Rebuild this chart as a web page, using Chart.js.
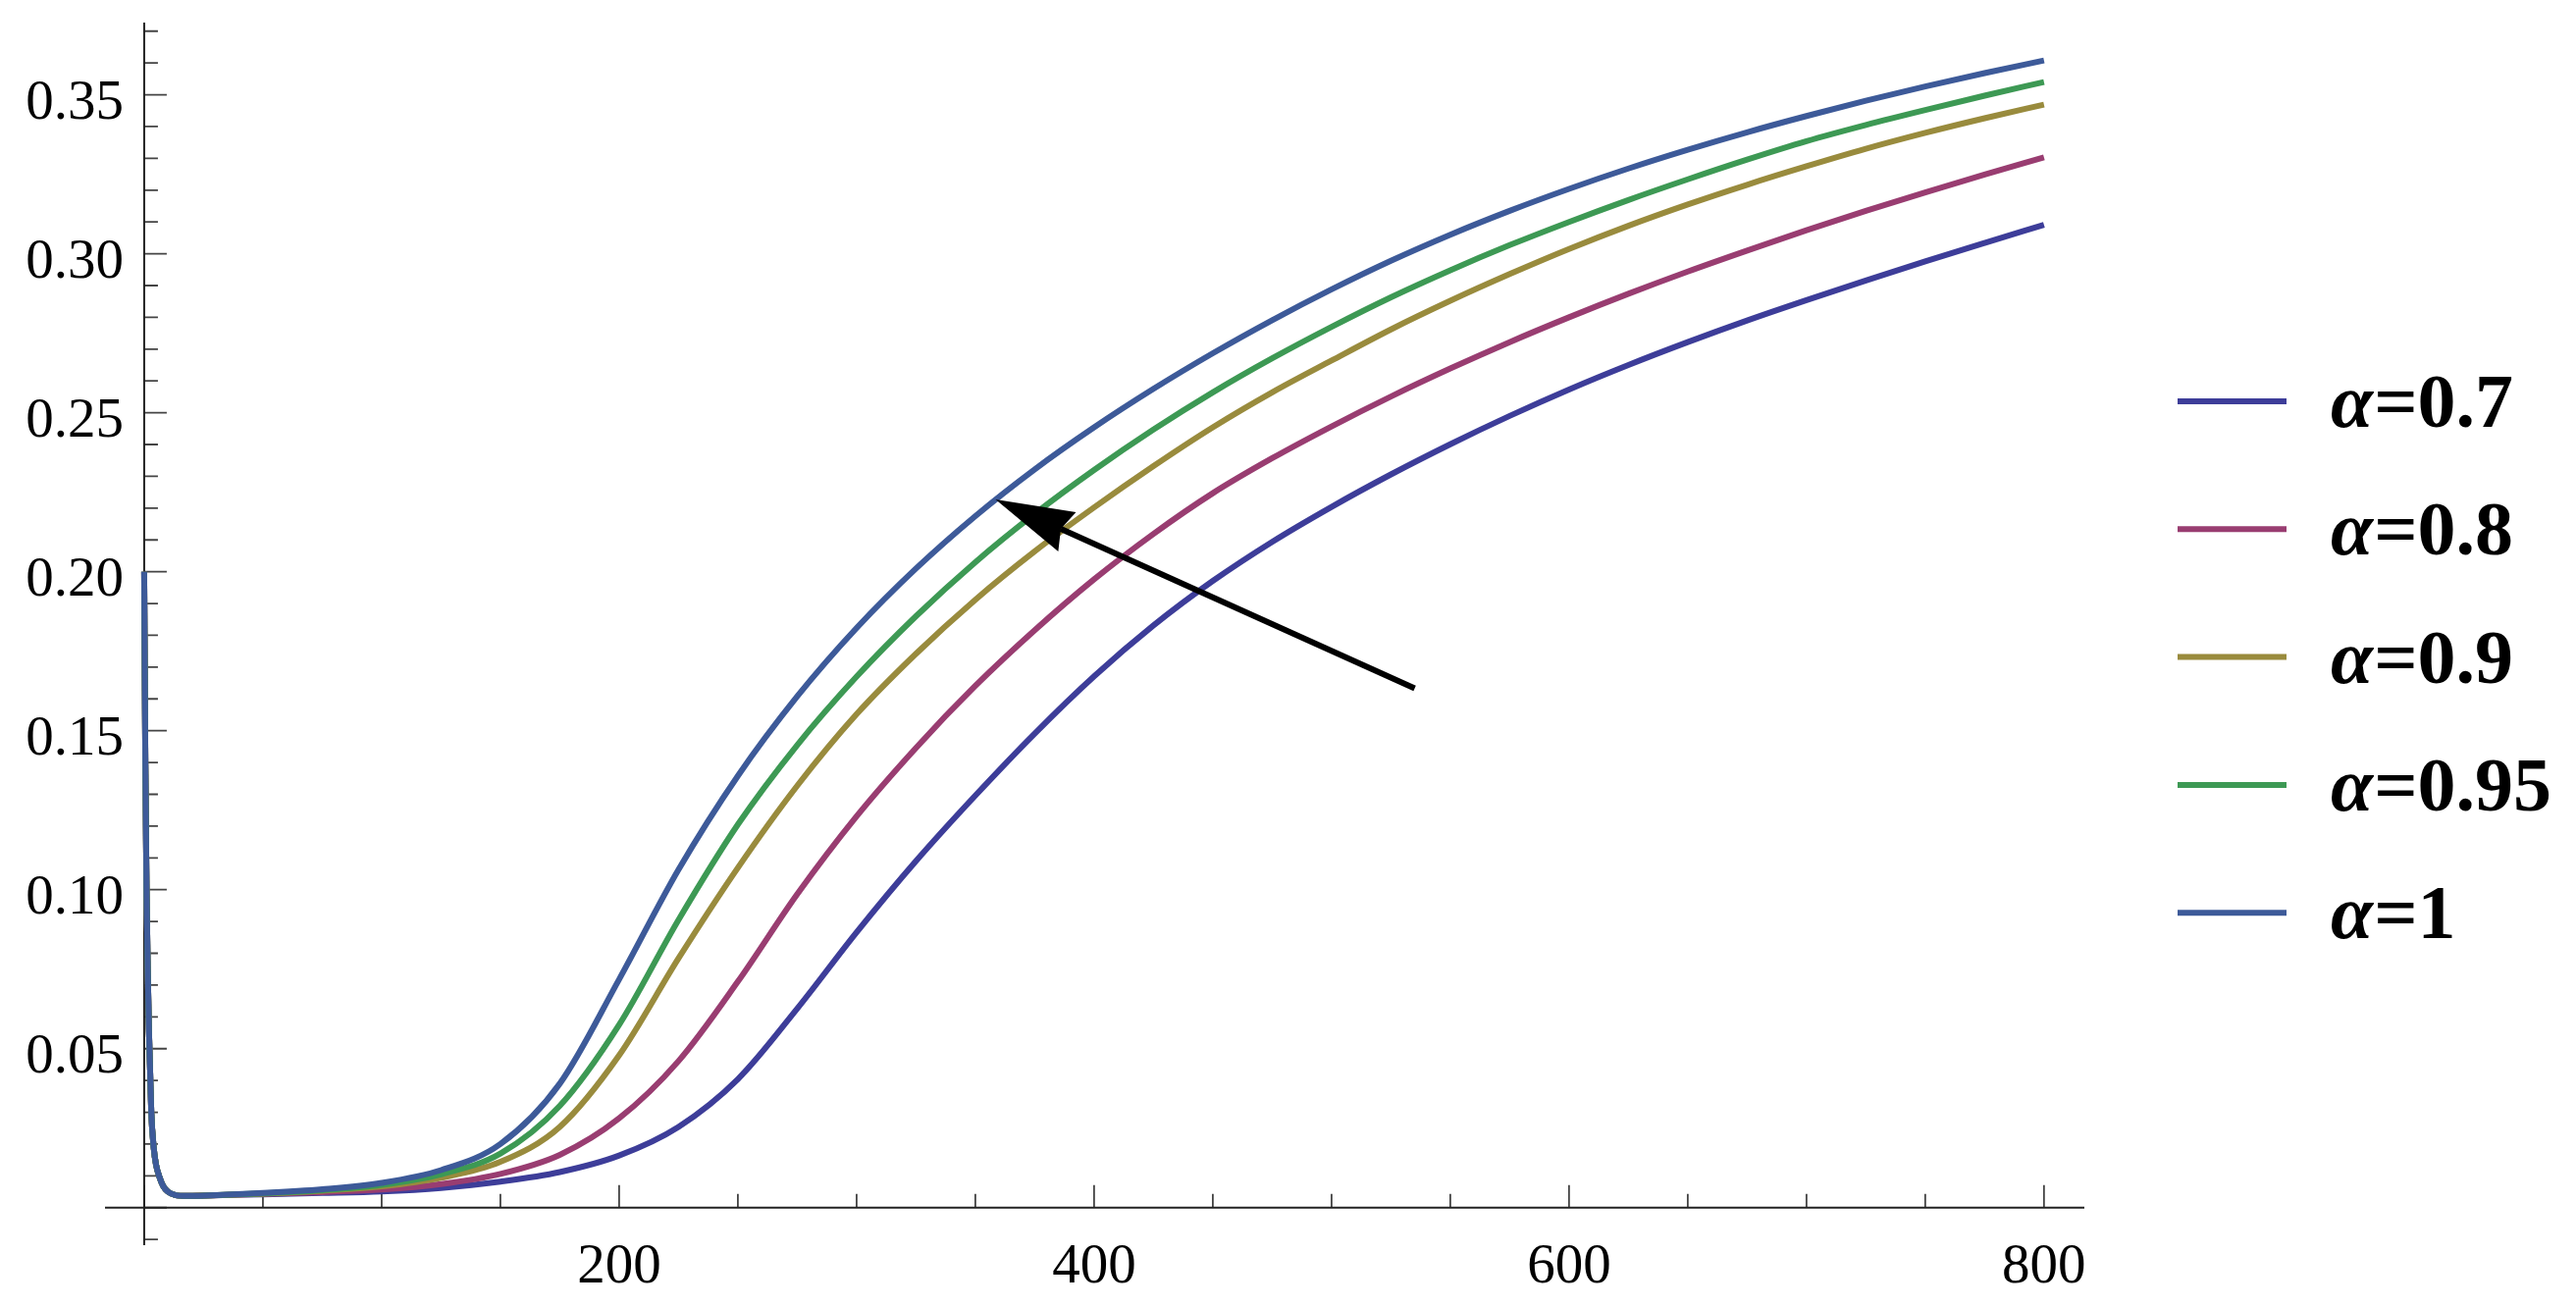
<!DOCTYPE html>
<html>
<head>
<meta charset="utf-8">
<script src="https://cdn.jsdelivr.net/npm/chart.js@4.4.1/dist/chart.umd.min.js"></script>
<style>
  html, body { margin: 0; padding: 0; background: #fff; }
  #wrap { width: 2625px; height: 1332px; position: relative; }
</style>
</head>
<body>
<div id="wrap"><canvas id="chart"></canvas></div>
<script>
// Sample positions along the horizontal axis (denser near the spike at 0)
const xValues = [0, 0.5, 1, 1.5, 2, 2.5, 3, 4, 5, 6.5, 8, 10, 13, 18,
    25, 50, 75, 100, 125, 150, 175, 200, 225, 250, 275, 300, 325, 350, 375, 400,
    425, 450, 475, 500, 525, 550, 575, 600, 625, 650, 675, 700, 725, 750, 775, 800];

// The initial drop is the same for every curve
const spike = [0.200, 0.140, 0.100, 0.075, 0.056, 0.043, 0.030, 0.019, 0.0135, 0.0095, 0.0068, 0.0050, 0.0040, 0.0037];

// Values, from x = 25 onwards, one list per curve
const alpha07 = [0.0038, 0.0042, 0.0046, 0.0051, 0.0062, 0.0082, 0.0112, 0.0164, 0.0254, 0.0404, 0.0626, 0.0866,
    0.1090, 0.1296, 0.1491, 0.1671, 0.1831, 0.1971, 0.2094, 0.2204, 0.2306, 0.2401, 0.2490, 0.2573,
    0.2650, 0.2722, 0.2790, 0.2854, 0.2916, 0.2976, 0.3034, 0.3091];
const alpha08 = [0.0038, 0.0043, 0.0049, 0.0057, 0.0074, 0.0106, 0.0166, 0.0281, 0.0461, 0.0711, 0.0986, 0.1231,
    0.1446, 0.1641, 0.1816, 0.1976, 0.2119, 0.2247, 0.2357, 0.2457, 0.2551, 0.2639, 0.2722, 0.2800,
    0.2874, 0.2944, 0.3010, 0.3074, 0.3135, 0.3193, 0.3249, 0.3303];
const alpha09 = [0.0038, 0.0044, 0.0053, 0.0067, 0.0094, 0.0144, 0.0254, 0.0479, 0.0784, 0.1069, 0.1327, 0.1552,
    0.1742, 0.1912, 0.2064, 0.2202, 0.2332, 0.2454, 0.2564, 0.2664, 0.2762, 0.2852, 0.2936, 0.3015,
    0.3088, 0.3155, 0.3217, 0.3275, 0.3330, 0.3380, 0.3426, 0.3469];
const alpha095 = [0.0038, 0.0045, 0.0055, 0.0072, 0.0105, 0.0170, 0.0320, 0.0575, 0.0905, 0.1205, 0.1455, 0.1670,
    0.1860, 0.2030, 0.2182, 0.2320, 0.2447, 0.2564, 0.2671, 0.2770, 0.2863, 0.2948, 0.3027, 0.3100,
    0.3169, 0.3234, 0.3296, 0.3354, 0.3405, 0.3452, 0.3497, 0.3540];
const alpha1 = [0.0038, 0.0046, 0.0058, 0.0078, 0.0118, 0.0200, 0.0390, 0.0718, 0.1063, 0.1358, 0.1608, 0.1823,
    0.2010, 0.2175, 0.2322, 0.2454, 0.2575, 0.2687, 0.2791, 0.2888, 0.2978, 0.3060, 0.3135, 0.3204,
    0.3268, 0.3327, 0.3382, 0.3433, 0.3481, 0.3526, 0.3568, 0.3608];

const seriesValues = [alpha07, alpha08, alpha09, alpha095, alpha1];
const seriesLabels = ['0.7', '0.8', '0.9', '0.95', '1'];
const seriesColors = ['#3d3d99', '#993d71', '#998b3d', '#3d9954', '#3d5a99'];

// Tick positions and labels
const xMajorTicks = [0, 200, 400, 600, 800];
const xMinorTicks = [50, 100, 150, 250, 300, 350, 450, 500, 550, 650, 700, 750];
const xTickLabels = ['200', '400', '600', '800'];
const yMajorTicks = [0, 0.05, 0.10, 0.15, 0.20, 0.25, 0.30, 0.35];
const yMinorTicks = [-0.01, 0.01, 0.02, 0.03, 0.04, 0.06, 0.07, 0.08, 0.09, 0.11, 0.12, 0.13, 0.14,
    0.16, 0.17, 0.18, 0.19, 0.21, 0.22, 0.23, 0.24, 0.26, 0.27, 0.28, 0.29, 0.31, 0.32, 0.33, 0.34, 0.36, 0.37];
const yTickLabels = ['0.05', '0.10', '0.15', '0.20', '0.25', '0.30', '0.35'];

// The arrow annotation, in data units: from tail to tip
const arrowTail = [535, 0.1633];
const arrowTip = [358.5, 0.2227];

const FONT = '"Liberation Serif", "Times New Roman", serif';

// Axes crossing at the origin, ticks pointing into the plot (drawn under the curves)
const originAxes = {
    id: 'originAxes',
    beforeDatasetsDraw(chart) {
        const ctx = chart.ctx;
        const area = chart.chartArea;
        const xs = chart.scales.x;
        const ys = chart.scales.y;
        const x0 = xs.getPixelForValue(0);
        const y0 = ys.getPixelForValue(0);

        ctx.save();
        ctx.strokeStyle = '#444';
        ctx.lineWidth = 1.8;
        ctx.beginPath();
        xMajorTicks.forEach(v => {
            const px = xs.getPixelForValue(v);
            ctx.moveTo(px, y0);
            ctx.lineTo(px, y0 - 23);
        });
        xMinorTicks.forEach(v => {
            const px = xs.getPixelForValue(v);
            ctx.moveTo(px, y0);
            ctx.lineTo(px, y0 - 14);
        });
        yMajorTicks.forEach(v => {
            const py = ys.getPixelForValue(v);
            ctx.moveTo(x0, py);
            ctx.lineTo(x0 + 23, py);
        });
        yMinorTicks.forEach(v => {
            const py = ys.getPixelForValue(v);
            ctx.moveTo(x0, py);
            ctx.lineTo(x0 + 14, py);
        });
        ctx.stroke();

        // axis lines
        ctx.strokeStyle = '#222';
        ctx.lineWidth = 2;
        ctx.beginPath();
        ctx.moveTo(area.left, y0);
        ctx.lineTo(area.right, y0);
        ctx.moveTo(x0, area.top);
        ctx.lineTo(x0, area.bottom);
        ctx.stroke();

        // tick labels
        ctx.fillStyle = '#000';
        ctx.font = '57px ' + FONT;
        ctx.textAlign = 'center';
        ctx.textBaseline = 'alphabetic';
        xTickLabels.forEach(t => {
            ctx.fillText(t, xs.getPixelForValue(Number(t)), y0 + 76);
        });
        ctx.textAlign = 'right';
        yTickLabels.forEach(t => {
            ctx.fillText(t, x0 - 21, ys.getPixelForValue(Number(t)) + 24);
        });
        ctx.restore();
    }
};

// Arrow annotation and the legend on the right
const overlay = {
    id: 'overlay',
    afterDatasetsDraw(chart) {
        const ctx = chart.ctx;
        const xs = chart.scales.x;
        const ys = chart.scales.y;

        // arrow
        const sx = xs.getPixelForValue(arrowTail[0]);
        const sy = ys.getPixelForValue(arrowTail[1]);
        const tx = xs.getPixelForValue(arrowTip[0]);
        const ty = ys.getPixelForValue(arrowTip[1]);
        const len = Math.hypot(tx - sx, ty - sy);
        const ux = (tx - sx) / len, uy = (ty - sy) / len;
        const px = -uy, py = ux;
        const headLen = 80, headHalf = 22, notch = 73;

        ctx.save();
        ctx.strokeStyle = '#000';
        ctx.fillStyle = '#000';
        ctx.lineWidth = 6;
        ctx.beginPath();
        ctx.moveTo(sx, sy);
        ctx.lineTo(tx - ux * notch, ty - uy * notch);
        ctx.stroke();
        ctx.beginPath();
        ctx.moveTo(tx, ty);
        ctx.lineTo(tx - ux * headLen + px * headHalf, ty - uy * headLen + py * headHalf);
        ctx.lineTo(tx - ux * notch, ty - uy * notch);
        ctx.lineTo(tx - ux * headLen - px * headHalf, ty - uy * headLen - py * headHalf);
        ctx.closePath();
        ctx.fill();

        // legend
        const lineLeft = 2219, lineRight = 2330, textLeft = 2375;
        const firstY = 409, stepY = 130.3;
        seriesLabels.forEach((lab, i) => {
            const y = firstY + i * stepY;
            ctx.strokeStyle = seriesColors[i];
            ctx.lineWidth = 6;
            ctx.beginPath();
            ctx.moveTo(lineLeft, y);
            ctx.lineTo(lineRight, y);
            ctx.stroke();

            ctx.fillStyle = '#000';
            ctx.textAlign = 'left';
            ctx.textBaseline = 'alphabetic';
            ctx.font = 'italic bold 78px ' + FONT;
            ctx.fillText('\u03b1', textLeft, y + 26);
            const w = ctx.measureText('\u03b1').width;
            ctx.font = 'bold 78px ' + FONT;
            ctx.fillText('=' + lab, textLeft + w + 1, y + 26);
        });
        ctx.restore();
    }
};

new Chart(document.getElementById('chart'), {
    type: 'line',
    data: {
        datasets: seriesLabels.map((lab, i) => {
            const ys = spike.concat(seriesValues[i]);
            return {
                label: '\u03b1=' + lab,
                data: xValues.map((x, j) => ({ x: x, y: ys[j] })),
                borderColor: seriesColors[i],
                backgroundColor: seriesColors[i],
                borderWidth: 6,
                borderJoinStyle: 'round',
                pointRadius: 0,
                cubicInterpolationMode: 'monotone',
                fill: false,
                // draw alpha=1 last so it sits on top
                order: seriesLabels.length - i
            };
        })
    },
    options: {
        responsive: true,
        maintainAspectRatio: false,
        animation: false,
        layout: { padding: { left: 107, right: 501, top: 23, bottom: 63 } },
        plugins: {
            legend: { display: false },
            tooltip: { enabled: false }
        },
        scales: {
            x: { type: 'linear', min: -16.5, max: 817, display: false },
            y: { type: 'linear', min: -0.0118, max: 0.3727, display: false }
        }
    },
    plugins: [originAxes, overlay]
});
</script>
</body>
</html>
